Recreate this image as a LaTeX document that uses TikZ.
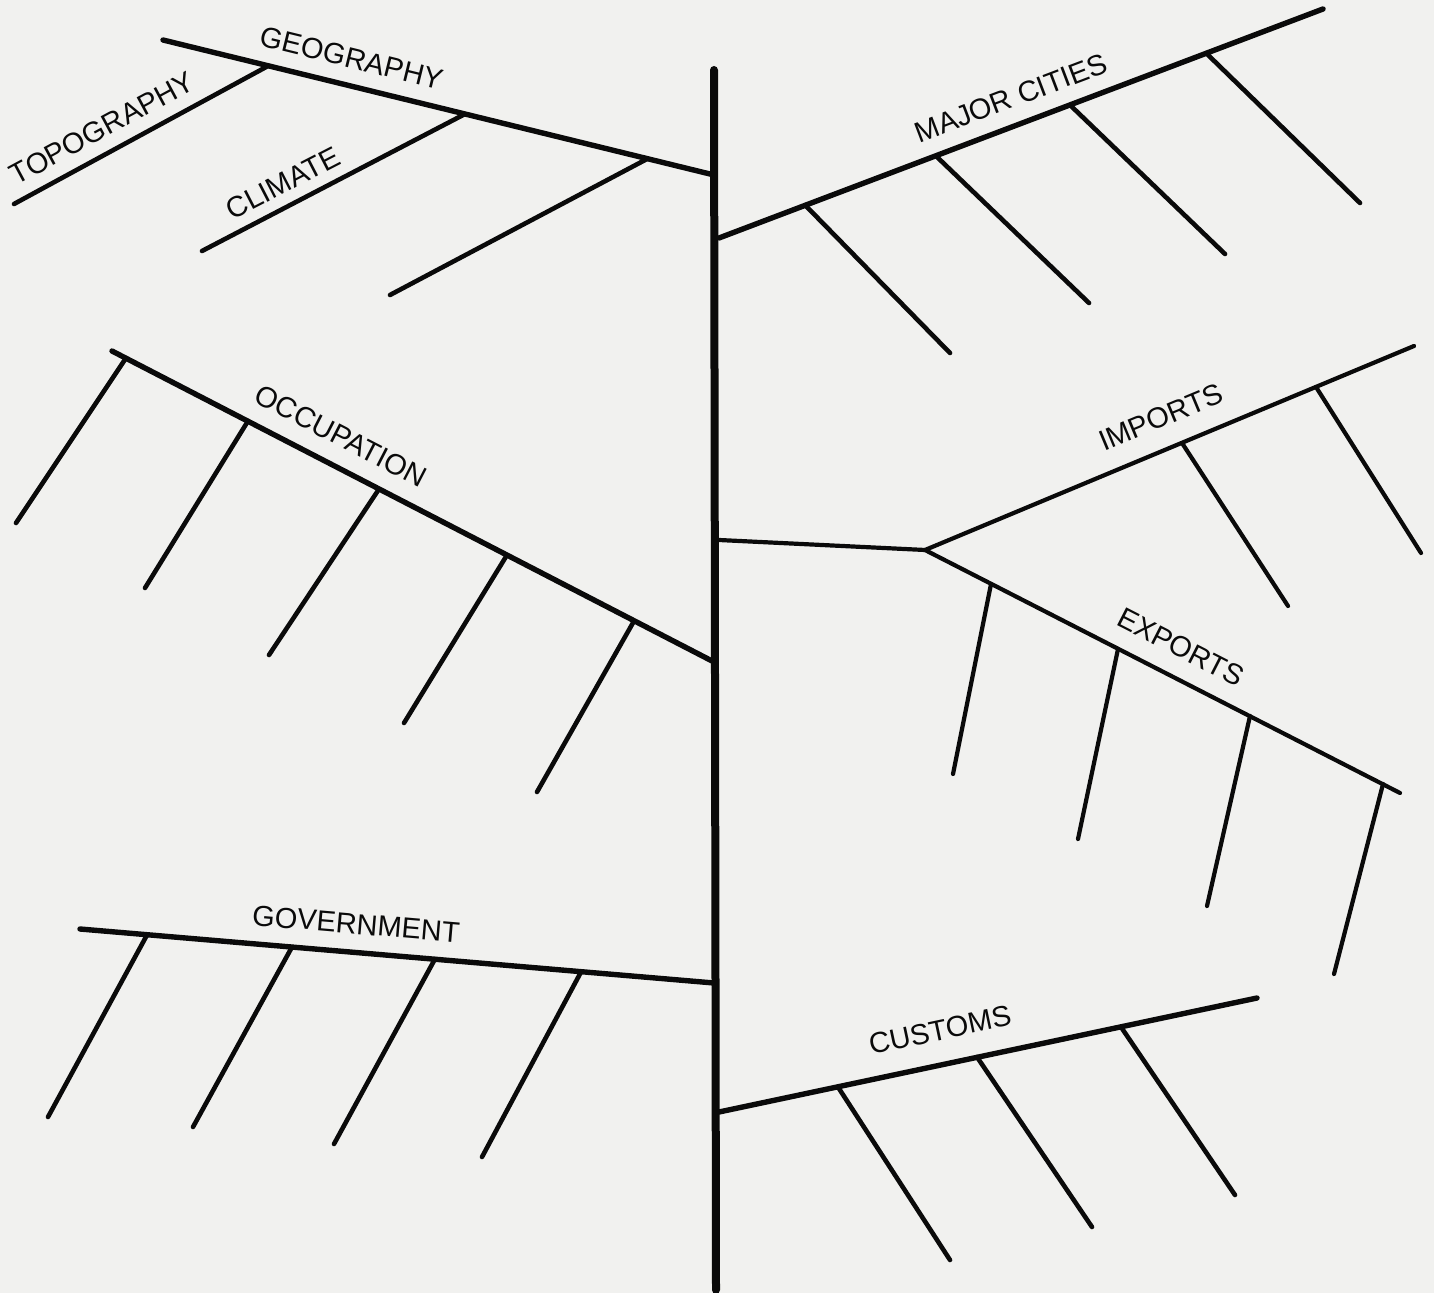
\documentclass[tikz,border=0pt]{standalone}
\usepackage{fontspec}
\setmainfont{Liberation Sans}
\definecolor{paper}{RGB}{241,241,239}
\definecolor{ink}{RGB}{10,10,10}
\begin{document}
\begin{tikzpicture}[x=0.5pt,y=-0.5pt,
  spine/.style={draw=ink,line width=4pt,line cap=round},
  bone/.style={draw=ink,line width=2.7pt,line cap=round},
  rib/.style={draw=ink,line width=2.3pt,line cap=round},
  fork/.style={draw=ink,line width=2.1pt,line cap=round,line join=round},
  tag/.style={font=\fontsize{14.5}{17}\selectfont,text=ink,inner sep=0pt}]
\fill[paper] (0,0) rectangle (1434,1293);
\useasboundingbox (0,0) rectangle (1434,1293);

% central spine
\coordinate (sT) at (714,70);
\coordinate (sB) at (716,1290);
\draw[spine] (sT) -- (sB);

% geography
\coordinate (g0) at (163,40);  \coordinate (g1) at (714,175);
\coordinate (gA) at (268,66);  \coordinate (gAe) at (14,204);
\coordinate (gB) at (465,114); \coordinate (gBe) at (202,251);
\coordinate (gC) at (647,159); \coordinate (gCe) at (390,295);
\draw[bone] (g0) -- (g1);
\draw[rib] (gA) -- (gAe);
\draw[rib] (gB) -- (gBe);
\draw[rib] (gC) -- (gCe);
\node[tag,rotate=-13.8] (geo) at (352,58) {GEOGRAPHY};
\node[tag,rotate=28.3] (topo) at (102,128) {TOPOGRAPHY};
\node[tag,rotate=27.3] (clim) at (283,183) {CLIMATE};

% major cities
\coordinate (m0) at (719,238); \coordinate (m1) at (1323,9);
\coordinate (mA) at (805,205);  \coordinate (mAe) at (950,353);
\coordinate (mB) at (936,156);  \coordinate (mBe) at (1089,303);
\coordinate (mC) at (1070,105); \coordinate (mCe) at (1225,254);
\coordinate (mD) at (1206,53);  \coordinate (mDe) at (1360,203);
\draw[bone] (m0) -- (m1);
\foreach \p in {mA,mB,mC,mD} \draw[rib] (\p) -- (\p e);
\node[tag,rotate=20.8] (city) at (1011,98) {MAJOR CITIES};

% occupation
\coordinate (o0) at (112,351); \coordinate (o1) at (714,662);
\coordinate (oA) at (126,358); \coordinate (oAe) at (16,523);
\coordinate (oB) at (248,421); \coordinate (oBe) at (145,588);
\coordinate (oC) at (379,489); \coordinate (oCe) at (269,655);
\coordinate (oD) at (507,555); \coordinate (oDe) at (404,723);
\coordinate (oE) at (634,621); \coordinate (oEe) at (537,792);
\draw[bone] (o0) -- (o1);
\foreach \p in {oA,oB,oC,oD,oE} \draw[rib] (\p) -- (\p e);
\node[tag,rotate=-27.3] (occ) at (341,436) {OCCUPATION};

% imports and exports
\coordinate (t0) at (719,540); \coordinate (t1) at (925,550);
\coordinate (i1) at (1414,346); \coordinate (e1) at (1400,793);
\draw[fork] (t0) -- (t1);
\draw[fork] (i1) -- (t1) -- (e1);
\coordinate (iA) at (1182,443); \coordinate (iAe) at (1288,606);
\coordinate (iB) at (1316,387); \coordinate (iBe) at (1421,553);
\coordinate (eA) at (991,584);  \coordinate (eAe) at (953,774);
\coordinate (eB) at (1118,649); \coordinate (eBe) at (1078,839);
\coordinate (eC) at (1250,716); \coordinate (eCe) at (1207,906);
\coordinate (eD) at (1383,784); \coordinate (eDe) at (1334,974);
\foreach \p in {iA,iB,eA,eB,eC,eD} \draw[fork] (\p) -- (\p e);
\node[tag,rotate=22.6] (imp) at (1161,417) {IMPORTS};
\node[tag,rotate=-27.1] (exp) at (1181,647) {EXPORTS};

% government
\coordinate (v0) at (80,929); \coordinate (v1) at (714,983);
\coordinate (vA) at (147,935); \coordinate (vAe) at (48,1117);
\coordinate (vB) at (292,947); \coordinate (vBe) at (193,1127);
\coordinate (vC) at (435,959); \coordinate (vCe) at (334,1144);
\coordinate (vD) at (581,972); \coordinate (vDe) at (482,1157);
\draw[bone] (v0) -- (v1);
\foreach \p in {vA,vB,vC,vD} \draw[rib] (\p) -- (\p e);
\node[tag,rotate=-4.9] (gov) at (356,924) {GOVERNMENT};

% customs
\coordinate (c0) at (719,1112); \coordinate (c1) at (1257,998);
\coordinate (cA) at (838,1087);  \coordinate (cAe) at (950,1260);
\coordinate (cB) at (977,1057);  \coordinate (cBe) at (1092,1227);
\coordinate (cC) at (1121,1027); \coordinate (cCe) at (1235,1195);
\draw[bone] (c0) -- (c1);
\foreach \p in {cA,cB,cC} \draw[rib] (\p) -- (\p e);
\node[tag,rotate=12] (cust) at (940,1030) {CUSTOMS};
\end{tikzpicture}
\end{document}
